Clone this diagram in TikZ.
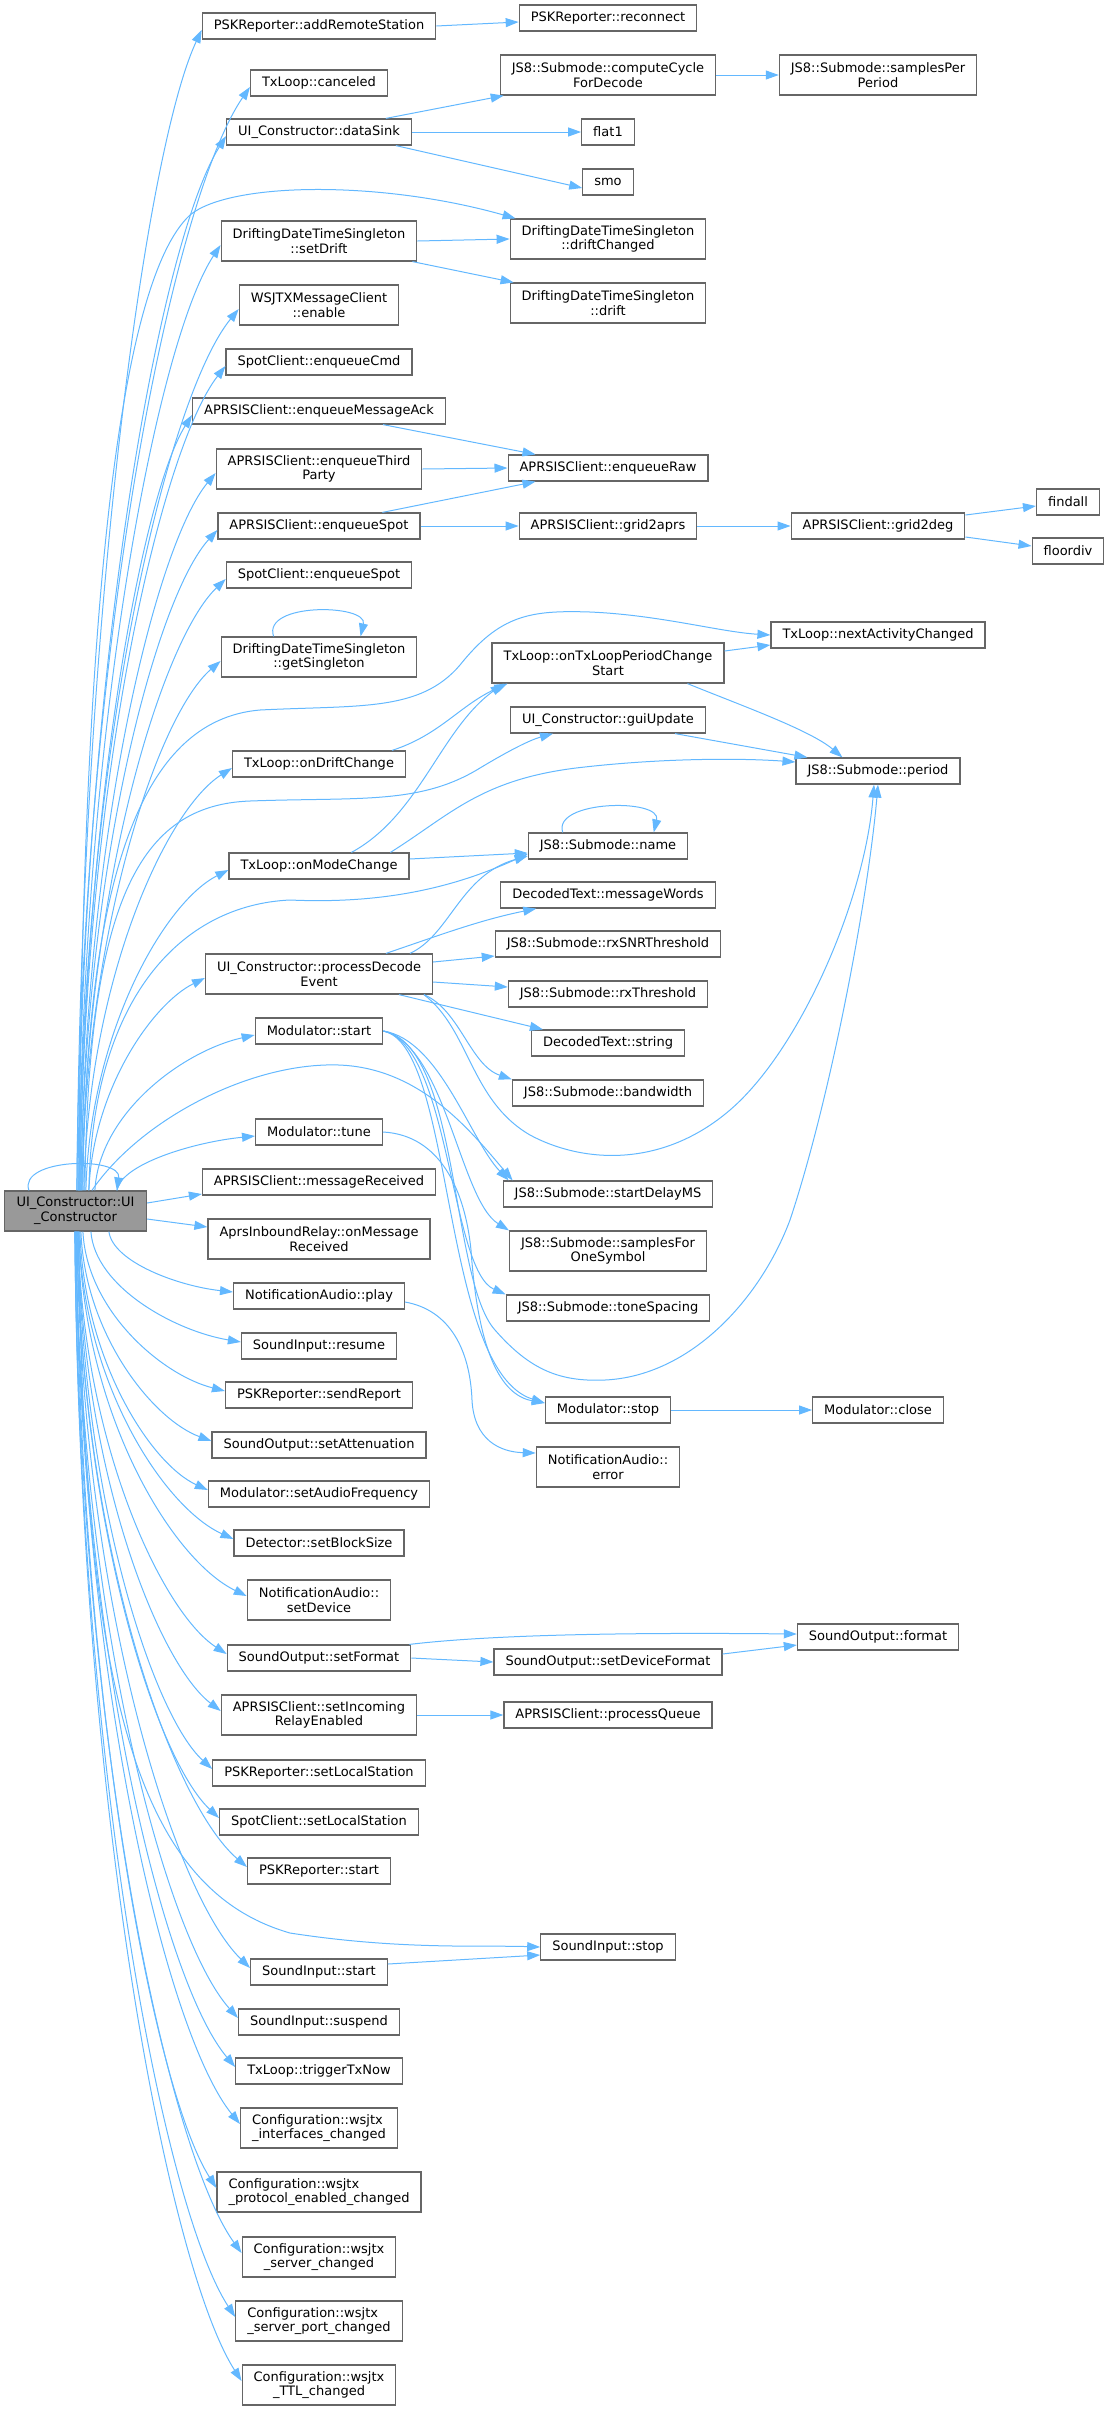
\documentclass[tikz,border=0pt]{standalone}
\usepackage{fontspec}
\setmainfont{DejaVu Sans}
\usepackage{tikz}
\usetikzlibrary{arrows.meta,calc}

\definecolor{edgeblue}{HTML}{63B8FF}
\definecolor{boxgray}{HTML}{666666}
\definecolor{rootgray}{HTML}{999999}

\begin{document}
\begin{tikzpicture}[x=0.5pt, y=-0.5pt,
	fn/.style={draw=boxgray, fill=white, line width=0.6pt, inner xsep=5.75pt, inner ysep=0pt,
		minimum height=13pt, align=center, font=\fontsize{6.5pt}{7.35pt}\selectfont},
	fn2/.style={fn, minimum height=20pt},
	rootfn/.style={fn2, fill=rootgray, text width=59.5pt},
	call/.style={draw=edgeblue, line width=0.5pt, -{Triangle[length=6.5pt,width=4.5pt]}}]

	\useasboundingbox (0,0) rectangle (1109,2410);

	\node[rootfn] (ctor) at (75.5,1211) {UI\_Constructor::UI\\\_Constructor};

	\node[fn]  (addRemote)       at (319,26)   {PSKReporter::addRemoteStation};
	\node[fn]  (canceled)        at (319,83)   {TxLoop::canceled};
	\node[fn]  (dataSink)        at (319,132)  {UI\_Constructor::dataSink};
	\node[fn2] (setDrift)        at (319,241)  {DriftingDateTimeSingleton\\::setDrift};
	\node[fn2] (wsjtxEnable)     at (319,305)  {WSJTXMessageClient\\::enable};
	\node[fn]  (enqueueCmd)      at (319,362)  {SpotClient::enqueueCmd};
	\node[fn]  (enqueueAck)      at (319,411)  {APRSISClient::enqueueMessageAck};
	\node[fn2] (enqueueThird)    at (319,469)  {APRSISClient::enqueueThird\\Party};
	\node[fn]  (aprsEnqueueSpot) at (319,526)  {APRSISClient::enqueueSpot};
	\node[fn]  (spotEnqueueSpot) at (319,575)  {SpotClient::enqueueSpot};
	\node[fn2] (getSingleton)    at (319,657)  {DriftingDateTimeSingleton\\::getSingleton};
	\node[fn]  (onDriftChange)   at (319,764)  {TxLoop::onDriftChange};
	\node[fn]  (onModeChange)    at (319,866)  {TxLoop::onModeChange};
	\node[fn2] (processDecode)   at (319,974)  {UI\_Constructor::processDecode\\Event};
	\node[fn]  (modStart)        at (319,1031) {Modulator::start};
	\node[fn]  (modTune)         at (319,1132) {Modulator::tune};
	\node[fn]  (msgReceived)     at (319,1182) {APRSISClient::messageReceived};
	\node[fn2] (onMsgReceived)   at (319,1239) {AprsInboundRelay::onMessage\\Received};
	\node[fn]  (audioPlay)       at (319,1296) {NotificationAudio::play};
	\node[fn]  (inResume)        at (319,1346) {SoundInput::resume};
	\node[fn]  (sendReport)      at (319,1395) {PSKReporter::sendReport};
	\node[fn]  (setAtten)        at (319,1445) {SoundOutput::setAttenuation};
	\node[fn]  (setAudioFreq)    at (319,1494) {Modulator::setAudioFrequency};
	\node[fn]  (setBlockSize)    at (319,1543) {Detector::setBlockSize};
	\node[fn2] (setDevice)       at (319,1600) {NotificationAudio::\\setDevice};
	\node[fn]  (setFormat)       at (319,1658) {SoundOutput::setFormat};
	\node[fn2] (setRelay)        at (319,1715) {APRSISClient::setIncoming\\RelayEnabled};
	\node[fn]  (pskLocal)        at (319,1773) {PSKReporter::setLocalStation};
	\node[fn]  (spotLocal)       at (319,1822) {SpotClient::setLocalStation};
	\node[fn]  (pskStart)        at (319,1871) {PSKReporter::start};
	\node[fn]  (inStart)         at (319,1972) {SoundInput::start};
	\node[fn]  (inSuspend)       at (319,2022) {SoundInput::suspend};
	\node[fn]  (triggerTx)       at (319,2071) {TxLoop::triggerTxNow};
	\node[fn2, align=left] (cfgIfaces) at (319,2128) {Configuration::wsjtx\\\_interfaces\_changed};
	\node[fn2, align=left] (cfgProto)  at (319,2192) {Configuration::wsjtx\\\_protocol\_enabled\_changed};
	\node[fn2]             (cfgServer) at (319,2257) {Configuration::wsjtx\\\_server\_changed};
	\node[fn2, align=left] (cfgPort)   at (319,2321) {Configuration::wsjtx\\\_server\_port\_changed};
	\node[fn2]             (cfgTTL)    at (319,2385) {Configuration::wsjtx\\\_TTL\_changed};

	\node[fn]  (reconnect)     at (608,18)   {PSKReporter::reconnect};
	\node[fn2] (computeCycle)  at (608,75)   {JS8::Submode::computeCycle\\ForDecode};
	\node[fn]  (flat1)         at (608,132)  {flat1};
	\node[fn]  (smo)           at (608,182)  {smo};
	\node[fn2] (driftChanged)  at (608,239)  {DriftingDateTimeSingleton\\::driftChanged};
	\node[fn2] (drift)         at (608,303)  {DriftingDateTimeSingleton\\::drift};
	\node[fn]  (enqueueRaw)    at (608,468)  {APRSISClient::enqueueRaw};
	\node[fn]  (grid2aprs)     at (608,526)  {APRSISClient::grid2aprs};
	\node[fn2] (periodStart)   at (608,663)  {TxLoop::onTxLoopPeriodChange\\Start};
	\node[fn]  (guiUpdate)     at (608,720)  {UI\_Constructor::guiUpdate};
	\node[fn]  (smName)        at (608,846)  {JS8::Submode::name};
	\node[fn]  (messageWords)  at (608,895)  {DecodedText::messageWords};
	\node[fn]  (rxSNR)         at (608,944)  {JS8::Submode::rxSNRThreshold};
	\node[fn]  (rxThreshold)   at (608,994)  {JS8::Submode::rxThreshold};
	\node[fn]  (textString)    at (608,1043) {DecodedText::string};
	\node[fn]  (bandwidth)     at (608,1093) {JS8::Submode::bandwidth};
	\node[fn]  (startDelay)    at (608,1194) {JS8::Submode::startDelayMS};
	\node[fn2] (samplesSymbol) at (608,1251) {JS8::Submode::samplesFor\\OneSymbol};
	\node[fn]  (toneSpacing)   at (608,1308) {JS8::Submode::toneSpacing};
	\node[fn]  (modStop)       at (608,1410) {Modulator::stop};
	\node[fn2] (audioError)    at (608,1467) {NotificationAudio::\\error};
	\node[fn]  (setDevFormat)  at (608,1662) {SoundOutput::setDeviceFormat};
	\node[fn]  (processQueue)  at (608,1715) {APRSISClient::processQueue};
	\node[fn]  (inStop)        at (608,1947) {SoundInput::stop};

	\node[fn2] (samplesPeriod) at (878,75)   {JS8::Submode::samplesPer\\Period};
	\node[fn]  (grid2deg)      at (878,526)  {APRSISClient::grid2deg};
	\node[fn]  (nextActivity)  at (878,635)  {TxLoop::nextActivityChanged};
	\node[fn]  (period)        at (878,771)  {JS8::Submode::period};
	\node[fn]  (modClose)      at (878,1410) {Modulator::close};
	\node[fn]  (outFormat)     at (878,1637) {SoundOutput::format};

	\node[fn]  (findall)       at (1068,502) {findall};
	\node[fn]  (floordiv)      at (1068,551) {floordiv};

	\draw[call] ([xshift=12.5pt]ctor.north west) .. controls (18,1158) and (122,1156) .. ([xshift=56.5pt]ctor.north west);

	\draw[call] ([xshift=36.5pt]ctor.north west) .. controls (81,611)  and (147,146)  .. ([yshift=-2pt]addRemote.west);
	\draw[call] ([xshift=36.5pt]ctor.north west) .. controls (81,639)  and (174,197)  .. ([yshift=-2pt]canceled.west);
	\draw[call] ([xshift=37pt]ctor.north west)   .. controls (82,664)  and (160,242)  .. ([yshift=-2pt]dataSink.west);
	\draw[call] ([xshift=37.5pt]ctor.north west) .. controls (82,600)  and (120,280)  .. (190,215)
		.. controls (230,182) and (380,180) .. ([xshift=3pt]driftChanged.north west);
	\draw[call] ([xshift=37.5pt]ctor.north west) .. controls (83,718)  and (158,340)  .. ([yshift=-2pt]setDrift.west);
	\draw[call] ([xshift=37.5pt]ctor.north west) .. controls (83,750)  and (167,397)  .. ([yshift=-2pt]wsjtxEnable.west);
	\draw[call] ([xshift=38pt]ctor.north west)   .. controls (84,779)  and (161,449)  .. ([yshift=-2pt]enqueueCmd.west);
	\draw[call] ([xshift=38pt]ctor.north west)   .. controls (84,803)  and (143,493)  .. ([yshift=-2pt]enqueueAck.west);
	\draw[call] ([xshift=38.5pt]ctor.north west) .. controls (85,832)  and (156,545)  .. ([yshift=-2pt]enqueueThird.west);
	\draw[call] ([xshift=38.5pt]ctor.north west) .. controls (85,861)  and (157,596)  .. ([yshift=-2pt]aprsEnqueueSpot.west);
	\draw[call] ([xshift=39pt]ctor.north west)   .. controls (86,885)  and (162,640)  .. ([yshift=-2pt]spotEnqueueSpot.west);
	\draw[call] ([xshift=39pt]ctor.north west)   .. controls (86,926)  and (159,714)  .. ([yshift=-2pt]getSingleton.west);
	\draw[call] ([xshift=39.5pt]ctor.north west) .. controls (86,880)  and (140,720)  .. (260,710)
		.. controls (360,705) and (420,712) .. (460,665) .. controls (500,615) and (530,610) .. (590,612)
		.. controls (660,615) and (720,632) .. (nextActivity.west);
	\draw[call] ([xshift=40pt]ctor.north west)   .. controls (88,980)  and (166,810)  .. ([yshift=-2pt]onDriftChange.west);
	\draw[call] ([xshift=40.5pt]ctor.north west) .. controls (88,900)  and (140,805)  .. (250,801)
		.. controls (360,797) and (420,805) .. (480,768) .. controls (510,750) and (530,740) .. ([xshift=21.5pt]guiUpdate.south west);
	\draw[call] ([xshift=41pt]ctor.north west)   .. controls (90,1031) and (165,902)  .. ([yshift=-2pt]onModeChange.west);
	\draw[call] ([xshift=42.5pt]ctor.north west) .. controls (92,1000) and (180,905)  .. (290,900)
		.. controls (400,905) and (470,880) .. ([yshift=-4pt]smName.west);
	\draw[call] ([xshift=42.5pt]ctor.north west) .. controls (93,1087) and (154,1003) .. ([yshift=-2pt]processDecode.west);
	\draw[call] ([xshift=44pt]ctor.north west)   .. controls (140,1120) and (250,1062) .. (339,1065)
		.. controls (420,1068) and (470,1130) .. ([xshift=5pt]startDelay.north west);
	\draw[call] ([xshift=45.5pt]ctor.north west) .. controls (99,1113) and (183,1051) .. ([yshift=-2pt]modStart.west);
	\draw[call] ([xshift=56.5pt]ctor.north west) .. controls (121,1164) and (194,1142) .. ([yshift=-2pt]modTune.west);

	\draw[call] ([yshift=4pt]ctor.east)  -- ([yshift=-6pt]msgReceived.west);
	\draw[call] ([yshift=-4pt]ctor.east) -- ([yshift=6pt]onMsgReceived.west);

	\draw[call] ([xshift=52.5pt]ctor.south west) .. controls (113,1262) and (178,1286) .. ([yshift=2pt]audioPlay.west);
	\draw[call] ([xshift=43.5pt]ctor.south west) .. controls (95,1287)  and (175,1331) .. ([yshift=2pt]inResume.west);
	\draw[call] ([xshift=39.5pt]ctor.south west) .. controls (87,1311)  and (162,1375) .. ([yshift=2pt]sendReport.west);
	\draw[call] ([xshift=38.5pt]ctor.south west) .. controls (85,1336)  and (154,1420) .. ([yshift=2pt]setAtten.west);
	\draw[call] ([xshift=38pt]ctor.south west)   .. controls (84,1361)  and (151,1464) .. ([yshift=2pt]setAudioFreq.west);
	\draw[call] ([xshift=37.5pt]ctor.south west) .. controls (83,1385)  and (165,1508) .. ([yshift=2pt]setBlockSize.west);
	\draw[call] ([xshift=37.5pt]ctor.south west) .. controls (83,1414)  and (172,1560) .. ([yshift=2pt]setDevice.west);
	\draw[call] ([xshift=37pt]ctor.south west)   .. controls (82,1443)  and (162,1612) .. ([yshift=2pt]setFormat.west);
	\draw[call] ([xshift=37pt]ctor.south west)   .. controls (82,1471)  and (158,1663) .. ([yshift=2pt]setRelay.west);
	\draw[call] ([xshift=37pt]ctor.south west)   .. controls (82,1500)  and (153,1715) .. ([yshift=2pt]pskLocal.west);
	\draw[call] ([xshift=36.5pt]ctor.south west) .. controls (81,1525)  and (156,1759) .. ([yshift=2pt]spotLocal.west);
	\draw[call] ([xshift=36.5pt]ctor.south west) .. controls (81,1549)  and (172,1803) .. ([yshift=2pt]pskStart.west);
	\draw[call] ([xshift=37.5pt]ctor.south west) .. controls (82,1700)  and (140,1890) .. (290,1933)
		.. controls (400,1950) and (480,1945) .. (inStop.west);
	\draw[call] ([xshift=36.5pt]ctor.south west) .. controls (81,1600)  and (174,1894) .. ([yshift=2pt]inStart.west);
	\draw[call] ([xshift=36pt]ctor.south west)   .. controls (80,1625)  and (167,1939) .. ([yshift=2pt]inSuspend.west);
	\draw[call] ([xshift=36pt]ctor.south west)   .. controls (80,1649)  and (164,1983) .. ([yshift=2pt]triggerTx.west);
	\draw[call] ([xshift=36pt]ctor.south west)   .. controls (80,1678)  and (167,2035) .. ([yshift=2pt]cfgIfaces.west);
	\draw[call] ([xshift=36pt]ctor.south west)   .. controls (80,1710)  and (155,2092) .. ([yshift=2pt]cfgProto.west);
	\draw[call] ([xshift=35.5pt]ctor.south west) .. controls (79,1742)  and (168,2151) .. ([yshift=2pt]cfgServer.west);
	\draw[call] ([xshift=35.5pt]ctor.south west) .. controls (79,1774)  and (164,2208) .. ([yshift=2pt]cfgPort.west);
	\draw[call] ([xshift=35.5pt]ctor.south west) .. controls (79,1806)  and (168,2266) .. ([yshift=2pt]cfgTTL.west);

	\draw[call] (addRemote.east) -- ([yshift=-2pt]reconnect.west);
	\draw[call] ([xshift=-13pt]dataSink.north east) -- ([xshift=2pt]computeCycle.south west);
	\draw[call] (dataSink.east) -- (flat1.west);
	\draw[call] ([xshift=-8pt]dataSink.south east) -- ([yshift=-3pt]smo.west);
	\draw[call] (computeCycle.east) -- (samplesPeriod.west);
	\draw[call] (setDrift.east) -- (driftChanged.west);
	\draw[call] ([xshift=-2.5pt]setDrift.south east) -- ([xshift=2pt]drift.north west);

	\draw[call] ([xshift=95.5pt]enqueueAck.south west) -- ([xshift=14pt]enqueueRaw.north west);
	\draw[call] (enqueueThird.east) -- (enqueueRaw.west);
	\draw[call] ([xshift=82.5pt]aprsEnqueueSpot.north west) -- ([xshift=14pt]enqueueRaw.south west);
	\draw[call] (aprsEnqueueSpot.east) -- (grid2aprs.west);
	\draw[call] (grid2aprs.east) -- (grid2deg.west);
	\draw[call] ([yshift=5.5pt]grid2deg.east) -- ([yshift=-2pt]findall.west);
	\draw[call] ([yshift=-5.5pt]grid2deg.east) -- ([yshift=2.5pt]floordiv.west);

	\draw[call] ([xshift=26.5pt]getSingleton.north west) .. controls (262,602) and (368,604) .. ([xshift=70pt]getSingleton.north west);

	\draw[call] ([xshift=80pt]onDriftChange.north west) .. controls (440,735) and (460,705) .. ([xshift=8pt]periodStart.south west);
	\draw[call] ([xshift=61.5pt]onModeChange.north west) .. controls (420,815) and (440,730) .. ([xshift=6pt]periodStart.south west);
	\draw[call] ([xshift=81pt]onModeChange.north west) .. controls (450,815) and (480,780) .. (576,768)
		.. controls (660,758) and (740,758) .. ([yshift=4.5pt]period.west);
	\draw[call] ([yshift=3.5pt]onModeChange.east) -- ([yshift=-3.5pt]smName.west);
	\draw[call] ([yshift=6pt]periodStart.east) -- ([yshift=-5pt]nextActivity.west);
	\draw[call] ([xshift=98pt]periodStart.south west) .. controls (740,705) and (810,730) .. ([xshift=23.5pt]period.north west);
	\draw[call] ([xshift=82.5pt]guiUpdate.south west) -- ([xshift=6pt]period.north west);

	\draw[call] ([xshift=17.5pt]smName.north west) .. controls (552,800) and (662,798) .. ([xshift=63pt]smName.north west);

	\draw[call] ([xshift=90.5pt]processDecode.north west) .. controls (440,935) and (480,920) .. ([xshift=18pt]messageWords.south west);
	\draw[call] ([xshift=102.5pt]processDecode.north west) .. controls (450,935) and (460,875) .. ([yshift=-5pt]smName.west);
	\draw[call] ([yshift=6pt]processDecode.east) -- ([yshift=-6pt]rxSNR.west);
	\draw[call] ([yshift=-4pt]processDecode.east) -- ([yshift=3.5pt]rxThreshold.west);
	\draw[call] ([xshift=97pt]processDecode.south west) -- ([xshift=6pt]textString.north west);
	\draw[call] ([xshift=109.5pt]processDecode.south west) .. controls (460,1010) and (470,1065) .. (bandwidth.north west);
	\draw[call] ([xshift=109.5pt]processDecode.south west) .. controls (470,1030) and (470,1100) .. (530,1135)
		.. controls (580,1162) and (660,1170) .. (730,1110) .. controls (800,1050) and (865,900) .. ([xshift=-2pt]period.south);

	\draw[call] (modStart.east) .. controls (440,1040) and (470,1140) .. ([xshift=3pt]startDelay.north west);
	\draw[call] (modStart.east) .. controls (445,1045) and (460,1200) .. (samplesSymbol.north west);
	\draw[call] (modStart.east) .. controls (450,1045) and (450,1270) .. (toneSpacing.north west);
	\draw[call] (modStart.east) .. controls (455,1045) and (440,1370) .. ([yshift=3.5pt]modStop.west);
	\draw[call] (modStart.east) .. controls (460,1045) and (450,1280) .. (495,1330)
		.. controls (530,1370) and (560,1382) .. (605,1380) .. controls (690,1376) and (760,1300) .. (790,1220)
		.. controls (830,1100) and (868,900) .. (period.south);
	\draw[call] (modTune.east) .. controls (440,1135) and (465,1190) .. (471,1250)
		.. controls (478,1350) and (500,1395) .. ([yshift=3.5pt]modStop.west);
	\draw[call] (modStop.east) -- (modClose.west);

	\draw[call] ([yshift=-3pt]audioPlay.east) .. controls (450,1310) and (470,1350) .. (472,1400)
		.. controls (474,1440) and (500,1452) .. ([yshift=7pt]audioError.west);

	\draw[call] ([xshift=-1pt]setFormat.north east) .. controls (480,1636) and (600,1632) .. ([yshift=1.5pt]outFormat.west);
	\draw[call] (setFormat.east) -- (setDevFormat.west);
	\draw[call] ([yshift=4pt]setDevFormat.east) -- ([yshift=-4pt]outFormat.west);
	\draw[call] (setRelay.east) -- (processQueue.west);
	\draw[call] ([yshift=4pt]inStart.east) -- ([yshift=-4pt]inStop.west);

\end{tikzpicture}
\end{document}
